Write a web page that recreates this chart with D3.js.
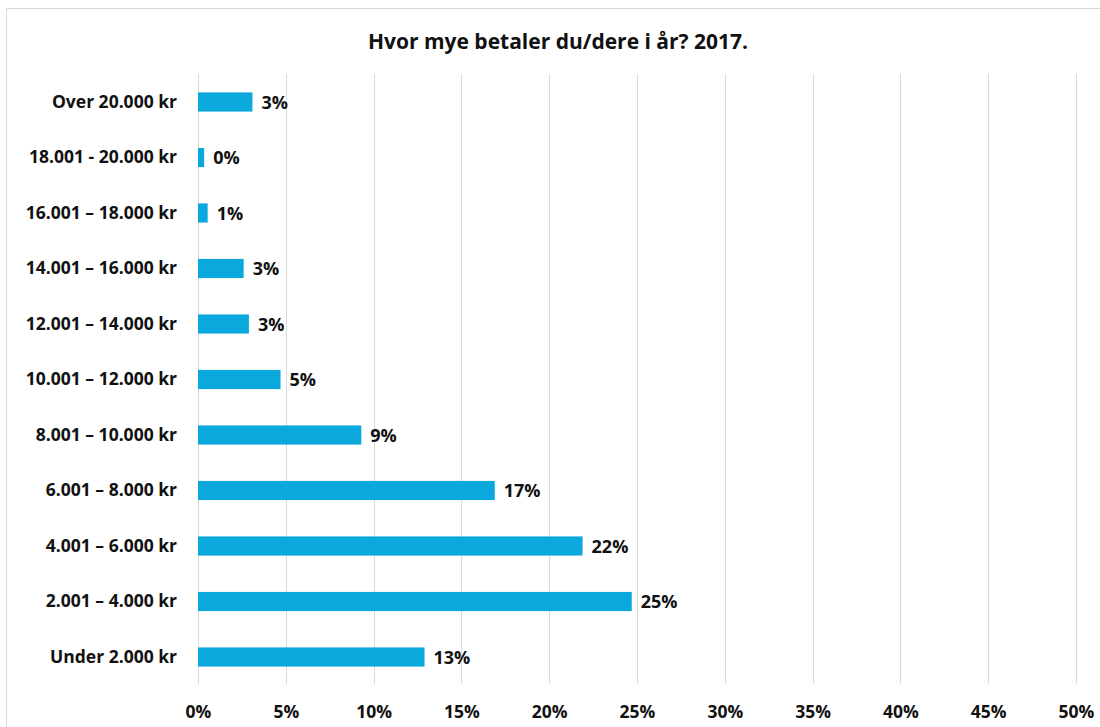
<!DOCTYPE html>
<html>
<head>
<meta charset="utf-8">
<script src="https://cdn.jsdelivr.net/npm/d3@7"></script>
<style>
  html, body { margin: 0; padding: 0; background: #fff; }
  svg { display: block; }
  text { font-family: "Open Sans", "Liberation Sans", sans-serif; font-weight: 700; fill: #111; }
</style>
</head>
<body>
<svg id="chart" width="1100" height="727"></svg>
<script>
// Payment brackets, top to bottom
const categories = [
  "Over 20.000 kr",
  "18.001 - 20.000 kr",
  "16.001 \u2013 18.000 kr",
  "14.001 \u2013 16.000 kr",
  "12.001 \u2013 14.000 kr",
  "10.001 \u2013 12.000 kr",
  "8.001 \u2013 10.000 kr",
  "6.001 \u2013 8.000 kr",
  "4.001 \u2013 6.000 kr",
  "2.001 \u2013 4.000 kr",
  "Under 2.000 kr"
];
// Share of respondents, percent
const shares = [3.1, 0.35, 0.55, 2.6, 2.9, 4.7, 9.3, 16.9, 21.9, 24.7, 12.9];
const tickValues = [0, 5, 10, 15, 20, 25, 30, 35, 40, 45, 50];
const title = "Hvor mye betaler du/dere i år? 2017.";

const svg = d3.select("#chart");
const W = 1100, H = 727;

// outer frame
svg.append("rect")
  .attr("x", 6.5).attr("y", 8.5)
  .attr("width", W + 10).attr("height", H + 10)
  .attr("fill", "#fff").attr("stroke", "#d9d9d9");

const plot = { left: 198, right: 1076, top: 74, bottom: 684 };

const x = d3.scaleLinear().domain([0, 50]).range([plot.left, plot.right]);
const y = d3.scaleBand().domain(categories)
  .range([plot.top + 0.25, plot.bottom + 0.75])
  .paddingInner(0.655).paddingOuter(0.3275);

// vertical gridlines
svg.append("g").selectAll("line")
  .data(tickValues).join("line")
  .attr("x1", d => Math.round(x(d)) + 0.5).attr("x2", d => Math.round(x(d)) + 0.5)
  .attr("y1", plot.top).attr("y2", plot.bottom)
  .attr("stroke", "#d9d9d9").attr("stroke-width", 1);

// x axis tick labels
const xAxis = d3.axisBottom(x).tickValues(tickValues).tickSize(0).tickPadding(0)
  .tickFormat(d => d + "%");
svg.append("g")
  .attr("transform", `translate(0, ${plot.bottom + 22})`)
  .call(xAxis)
  .call(g => g.select(".domain").remove())
  .call(g => g.selectAll("text")
    .attr("font-size", 17.5).attr("font-family", "Open Sans, sans-serif")
    .attr("font-weight", 700).attr("fill", "#111"));

// category labels
const yAxis = d3.axisLeft(y).tickSize(0).tickPadding(21);
svg.append("g")
  .attr("transform", `translate(${plot.left}, 0)`)
  .call(yAxis)
  .call(g => g.select(".domain").remove())
  .call(g => g.selectAll("text")
    .attr("font-size", 17.5).attr("font-family", "Open Sans, sans-serif")
    .attr("font-weight", 700).attr("fill", "#111"));

// bars
svg.append("g").selectAll("rect")
  .data(categories).join("rect")
  .attr("x", x(0))
  .attr("y", d => y(d))
  .attr("width", (d, i) => x(shares[i]) - x(0))
  .attr("height", y.bandwidth())
  .attr("fill", "#0aa8dc");

// value labels
svg.append("g").selectAll("text")
  .data(categories).join("text")
  .attr("x", (d, i) => x(shares[i]) + 9)
  .attr("y", d => y(d) + y.bandwidth() / 2 + 2)
  .attr("dominant-baseline", "middle")
  .attr("font-size", 18)
  .text((d, i) => Math.round(shares[i]) + "%");

// title
svg.append("text")
  .attr("x", 558).attr("y", 43)
  .attr("text-anchor", "middle").attr("dominant-baseline", "middle")
  .attr("font-size", 21)
  .text(title);
</script>
</body>
</html>
